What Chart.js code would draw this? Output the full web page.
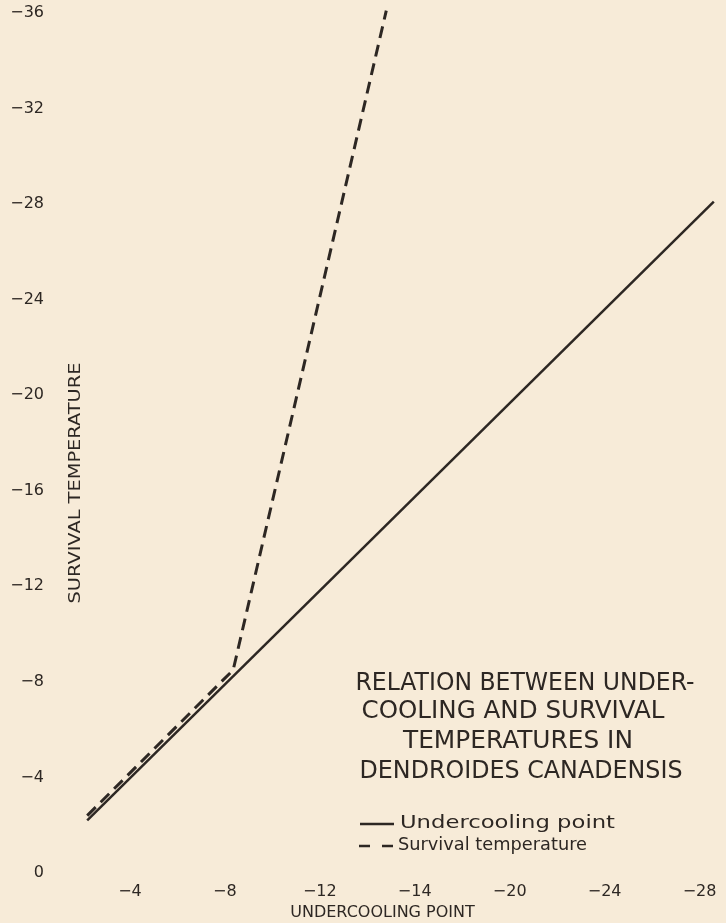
<!DOCTYPE html>
<html>
<head>
<meta charset="utf-8">
<title>Undercooling and survival temperatures in Dendroides canadensis</title>
<script src="https://cdn.jsdelivr.net/npm/chart.js@4/dist/chart.umd.min.js"></script>
<style>
  html, body { margin: 0; padding: 0; background: #f7ebd8; }
  #wrap { width: 726px; height: 923px; }
</style>
</head>
<body>
<div id="wrap"><canvas id="c" width="726" height="923"></canvas></div>
<script>
// Undercooling point (x) against survival temperature (y), both in degrees C
const undercoolingX = [-2.2, -28.6];
const undercoolingY = [-2.2, -28.1];
const survivalX = [-2.2, -8.35, -14.8];
const survivalY = [-2.4, -8.5, -36.1];

const xTickValues = [-4, -8, -12, -16, -20, -24, -28];
const xTickLabels = ['−4', '−8', '−12', '−14', '−20', '−24', '−28'];
const yTickValues = [0, -4, -8, -12, -16, -20, -24, -28, -32, -36];
const yTickLabels = ['0', '−4', '−8', '−12', '−16', '−20', '−24', '−28', '−32', '−36'];

const seriesNames = ['Undercooling point', 'Survival temperature'];
const titleLines = ['RELATION BETWEEN UNDER-', 'COOLING AND SURVIVAL', 'TEMPERATURES IN', 'DENDROIDES CANADENSIS'];
const xAxisTitle = 'UNDERCOOLING POINT';
const yAxisTitle = 'SURVIVAL TEMPERATURE';

const INK = '#2d2723';
const PAPER = '#f7ebd8';
const FONT = '"DejaVu Sans", sans-serif';

const toPoints = (xs, ys) => xs.map((x, i) => ({ x, y: ys[i] }));

// write text stretched to a given width (hand lettering is wide)
function fitText(ctx, text, cx, baseline, width, size, rotate) {
  ctx.save();
  ctx.font = size + 'px ' + FONT;
  const w = ctx.measureText(text).width;
  ctx.translate(cx, baseline);
  if (rotate) ctx.rotate(-Math.PI / 2);
  ctx.scale(width / w, 1);
  ctx.textAlign = 'center';
  ctx.textBaseline = 'alphabetic';
  ctx.fillStyle = INK;
  ctx.fillText(text, 0, 0);
  ctx.restore();
}

const paper = {
  id: 'paper',
  beforeDraw(chart) {
    const ctx = chart.ctx;
    ctx.save();
    ctx.fillStyle = PAPER;
    ctx.fillRect(0, 0, chart.width, chart.height);
    ctx.restore();
  }
};

const notes = {
  id: 'notes',
  afterDraw(chart) {
    const ctx = chart.ctx;
    // y axis caption, set just inside the tick labels
    fitText(ctx, yAxisTitle, 80, 483, 241, 16.5, true);

    // caption block
    const cx = [525, 513, 518, 521];
    const base = [690, 718, 748, 778];
    const widths = [339, 303, 230, 323];
    titleLines.forEach((t, i) => fitText(ctx, t, cx[i], base[i], widths[i], 24, false));

    // key
    const ds = chart.data.datasets;
    ctx.save();
    ctx.strokeStyle = INK;
    ctx.lineWidth = 2.5;
    ctx.beginPath();
    ctx.moveTo(360, 824); ctx.lineTo(394, 824);
    ctx.stroke();
    ctx.setLineDash([11, 12]);
    ctx.beginPath();
    ctx.moveTo(359, 846); ctx.lineTo(394, 846);
    ctx.stroke();
    ctx.restore();
    fitText(ctx, ds[0].label, 507.5, 828, 215, 18, false);
    fitText(ctx, ds[1].label, 492.5, 850, 189, 18, false);
  }
};

new Chart(document.getElementById('c'), {
  type: 'line',
  data: {
    datasets: [
      {
        label: seriesNames[0],
        data: toPoints(undercoolingX, undercoolingY),
        borderColor: INK,
        borderWidth: 2.5,
        pointRadius: 0,
        tension: 0,
        clip: false
      },
      {
        label: seriesNames[1],
        data: toPoints(survivalX, survivalY),
        borderColor: INK,
        borderWidth: 3,
        borderDash: [12, 7],
        pointRadius: 0,
        tension: 0,
        clip: false
      }
    ]
  },
  options: {
    responsive: false,
    animation: false,
    events: [],
    layout: { padding: { left: 0, right: 11, top: 5, bottom: 0 } },
    plugins: { legend: { display: false }, tooltip: { enabled: false } },
    scales: {
      x: {
        type: 'linear',
        reverse: true,
        min: -28.65,
        max: -0.632,
        grid: { display: false, drawTicks: false },
        border: { display: false },
        afterBuildTicks: s => { s.ticks = xTickValues.map(v => ({ value: v })); },
        afterFit: s => { s.height = 45; s.paddingLeft = 0; s.paddingRight = 0; },
        ticks: {
          autoSkip: false,
          maxRotation: 0,
          padding: 4,
          color: INK,
          font: { family: FONT, size: 16 },
          callback: (v, i) => xTickLabels[i]
        },
        title: {
          display: true,
          text: xAxisTitle,
          color: INK,
          font: { family: FONT, size: 16, lineHeight: 1 },
          padding: { top: 0, bottom: 2 }
        }
      },
      y: {
        type: 'linear',
        reverse: true,
        min: -36.335,
        max: 0.21,
        grid: { display: false, drawTicks: false },
        border: { display: false },
        afterBuildTicks: s => { s.ticks = yTickValues.map(v => ({ value: v })); },
        afterFit: s => { s.width = 50; s.paddingTop = 0; s.paddingBottom = 0; },
        ticks: {
          autoSkip: false,
          padding: 6,
          color: INK,
          font: { family: FONT, size: 16 },
          callback: (v, i) => yTickLabels[i]
        }
      }
    }
  },
  plugins: [paper, notes]
});
</script>
</body>
</html>
